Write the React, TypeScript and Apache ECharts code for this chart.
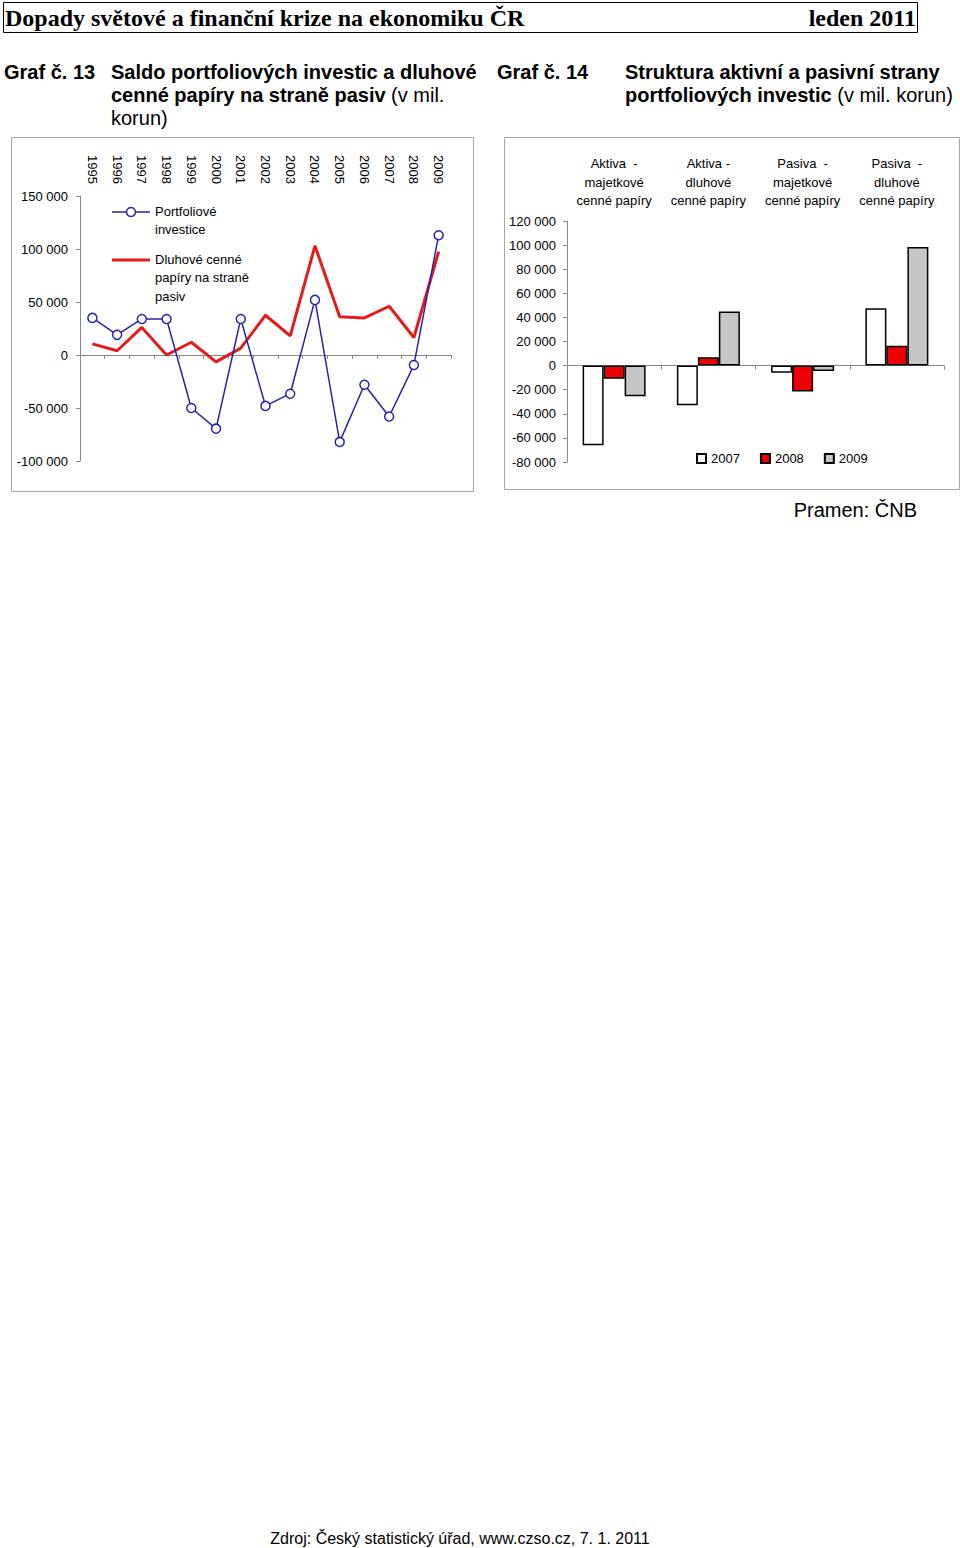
import React, { useEffect, useRef } from "react";
import * as echarts from "echarts";

const years = ["1995","1996","1997","1998","1999","2000","2001","2002","2003","2004","2005","2006","2007","2008","2009"];
const portfolio = [35000, 19000, 34000, 34000, -50000, -69500, 34000, -48000, -36500, 52000, -82000, -28000, -58000, -9500, 113000];
const debtLiab = [10500, 4000, 26000, 0, 12000, -6500, 6500, 37500, 18000, 103000, 36000, 35000, 46000, 16500, 97500];

const categories = ["Aktiva  -\nmajetkové\ncenné papíry", "Aktiva -\ndluhové\ncenné papíry", "Pasiva  -\nmajetkové\ncenné papíry", "Pasiva  -\ndluhové\ncenné papíry"];
const v2007 = [-66000, -33000, -6000, 47500];
const v2008 = [-11000, 7000, -21500, 16500];
const v2009 = [-25500, 45000, -4500, 98500];

const BLUE = "#2424ac";
const RED = "#e31b1b";
const FONT = '"Liberation Sans", Arial, sans-serif';
const fmt = (v: number) => String(v).replace(/\B(?=(\d{3})+(?!\d))/g, " ");

export default function App() {
  const ref = useRef<HTMLDivElement>(null);
  useEffect(() => {
    const chart = echarts.init(ref.current!, null, { renderer: "svg" });
    const axisGray = "#888";
    const option: any = {
      animation: false,
      textStyle: { fontFamily: FONT, color: "#000" },
      grid: [
        { left: 80, right: 509, top: 196, bottom: 1087 },
        { left: 567, right: 16, top: 221, bottom: 1086 },
      ],
      xAxis: [
        {
          gridIndex: 0, type: "category", data: years, position: "top",
          axisLine: { show: false, onZero: false }, axisTick: { show: false },
          axisLabel: { rotate: 90, fontSize: 13, color: "#000", margin: 12, interval: 0 },
        },
        {
          gridIndex: 0, type: "category", data: years, position: "bottom",
          axisLine: { show: true, onZero: true, lineStyle: { color: axisGray } },
          axisTick: { show: true, length: 4, interval: 0, lineStyle: { color: axisGray } },
          axisLabel: { show: false },
        },
        {
          gridIndex: 1, type: "category", data: categories, position: "top",
          axisLine: { show: false, onZero: false }, axisTick: { show: false },
          axisLabel: { fontSize: 13, color: "#000", margin: 11, interval: 0, lineHeight: 18.5 },
        },
        {
          gridIndex: 1, type: "category", data: categories, position: "bottom",
          axisLine: { show: true, onZero: true, lineStyle: { color: axisGray } },
          axisTick: { show: true, length: 4, interval: 0, lineStyle: { color: axisGray } },
          axisLabel: { show: false },
        },
      ],
      yAxis: [
        {
          gridIndex: 0, type: "value", min: -100000, max: 150000, interval: 50000,
          axisLine: { show: true, onZero: false, lineStyle: { color: axisGray } },
          axisTick: { show: true, length: 4, lineStyle: { color: axisGray } },
          splitLine: { show: false },
          axisLabel: { fontSize: 13, color: "#000", margin: 12, formatter: fmt },
        },
        {
          gridIndex: 1, type: "value", min: -80000, max: 120000, interval: 20000,
          axisLine: { show: true, onZero: false, lineStyle: { color: axisGray } },
          axisTick: { show: true, length: 4, lineStyle: { color: axisGray } },
          splitLine: { show: false },
          axisLabel: { fontSize: 13, color: "#000", margin: 11, formatter: fmt },
        },
      ],
      legend: {
        data: ["2007", "2008", "2009"], left: 696, top: 452, padding: 0,
        itemWidth: 9, itemHeight: 9, itemGap: 20, icon: "rect", selectedMode: false,
        textStyle: { fontSize: 13, color: "#000", fontFamily: FONT },
      },
      series: [
        {
          name: "Dluhové cenné papíry na straně pasiv", type: "line", xAxisIndex: 0, yAxisIndex: 0,
          data: debtLiab, symbol: "none", lineStyle: { color: RED, width: 3 }, itemStyle: { color: RED }, z: 2,
        },
        {
          name: "Portfoliové investice", type: "line", xAxisIndex: 0, yAxisIndex: 0,
          data: portfolio, symbol: "circle", symbolSize: 9,
          lineStyle: { color: BLUE, width: 1.5 },
          itemStyle: { color: "#fff", borderColor: BLUE, borderWidth: 1.5 }, z: 3,
        },
        {
          name: "2007", type: "bar", xAxisIndex: 2, yAxisIndex: 1, data: v2007,
          barWidth: 21, barGap: "0%",
          itemStyle: { color: "#fff", borderColor: "#000", borderWidth: 1.5 },
        },
        {
          name: "2008", type: "bar", xAxisIndex: 2, yAxisIndex: 1, data: v2008,
          barWidth: 21, barGap: "0%",
          itemStyle: { color: "#ee0000", borderColor: "#000", borderWidth: 1.5 },
        },
        {
          name: "2009", type: "bar", xAxisIndex: 2, yAxisIndex: 1, data: v2009,
          barWidth: 21, barGap: "0%",
          itemStyle: { color: "#c6c6c6", borderColor: "#000", borderWidth: 1.5 },
        },
      ],
      graphic: [
        { type: "rect", shape: { x: 3.5, y: 2.5, width: 914, height: 30 }, style: { fill: "none", stroke: "#000", lineWidth: 1 } },
        { type: "text", x: 5, y: 18, style: { text: "Dopady světové a finanční krize na ekonomiku ČR", font: 'bold 24px "Liberation Serif", serif', fill: "#000", verticalAlign: "middle" } },
        { type: "text", x: 916, y: 18, style: { text: "leden 2011", font: 'bold 24px "Liberation Serif", serif', fill: "#000", align: "right", verticalAlign: "middle" } },
        { type: "text", x: 4, y: 72, style: { text: "Graf č. 13", font: 'bold 20px ' + FONT, fill: "#000", verticalAlign: "middle" } },
        { type: "text", x: 497, y: 72, style: { text: "Graf č. 14", font: 'bold 20px ' + FONT, fill: "#000", verticalAlign: "middle" } },
        {
          type: "text", x: 111, y: 60.5,
          style: {
            text: "{b|Saldo portfoliových investic a dluhové}\n{b|cenné papíry na straně pasiv}{n| (v mil.}\n{n|korun)}",
            verticalAlign: "top",
            rich: {
              b: { fontFamily: FONT, fontWeight: "bold", fontSize: 20, lineHeight: 23, fill: "#000" },
              n: { fontFamily: FONT, fontWeight: "normal", fontSize: 20, lineHeight: 23, fill: "#000" },
            },
          },
        },
        {
          type: "text", x: 625, y: 60.5,
          style: {
            text: "{b|Struktura aktivní a pasivní strany}\n{b|portfoliových investic}{n| (v mil. korun)}",
            verticalAlign: "top",
            rich: {
              b: { fontFamily: FONT, fontWeight: "bold", fontSize: 20, lineHeight: 23, fill: "#000" },
              n: { fontFamily: FONT, fontWeight: "normal", fontSize: 20, lineHeight: 23, fill: "#000" },
            },
          },
        },
        { type: "rect", shape: { x: 11.5, y: 137.5, width: 462, height: 354 }, style: { fill: "none", stroke: "#a8a8a8", lineWidth: 1 }, z: -1 },
        { type: "rect", shape: { x: 504.5, y: 137.5, width: 455, height: 352 }, style: { fill: "none", stroke: "#a8a8a8", lineWidth: 1 }, z: -1 },
        { type: "line", shape: { x1: 112, y1: 212, x2: 150, y2: 212 }, style: { stroke: BLUE, lineWidth: 1.5 } },
        { type: "circle", shape: { cx: 131, cy: 212, r: 4.5 }, style: { fill: "#fff", stroke: BLUE, lineWidth: 1.5 } },
        { type: "text", x: 155, y: 202, style: { text: "Portfoliové\ninvestice", font: "13px " + FONT, lineHeight: 18.5, fill: "#000", verticalAlign: "top" } },
        { type: "line", shape: { x1: 112, y1: 260, x2: 150, y2: 260 }, style: { stroke: RED, lineWidth: 3 } },
        { type: "text", x: 155, y: 250, style: { text: "Dluhové cenné\npapíry na straně\npasiv", font: "13px " + FONT, lineHeight: 18.5, fill: "#000", verticalAlign: "top" } },
        { type: "text", x: 917, y: 510, style: { text: "Pramen: ČNB", font: "20px " + FONT, fill: "#000", align: "right", verticalAlign: "middle" } },
        { type: "text", x: 460, y: 1538, style: { text: "Zdroj: Český statistický úřad, www.czso.cz, 7. 1. 2011", font: "16px " + FONT, fill: "#000", align: "center", verticalAlign: "middle" } },
      ],
    };
    chart.setOption(option);
    return () => chart.dispose();
  }, []);
  return (
    <div style={{ position: "absolute", left: 0, top: 0, width: 960, height: 1548, background: "#fff" }}>
      <div ref={ref} style={{ width: 960, height: 1548 }} />
    </div>
  );
}
